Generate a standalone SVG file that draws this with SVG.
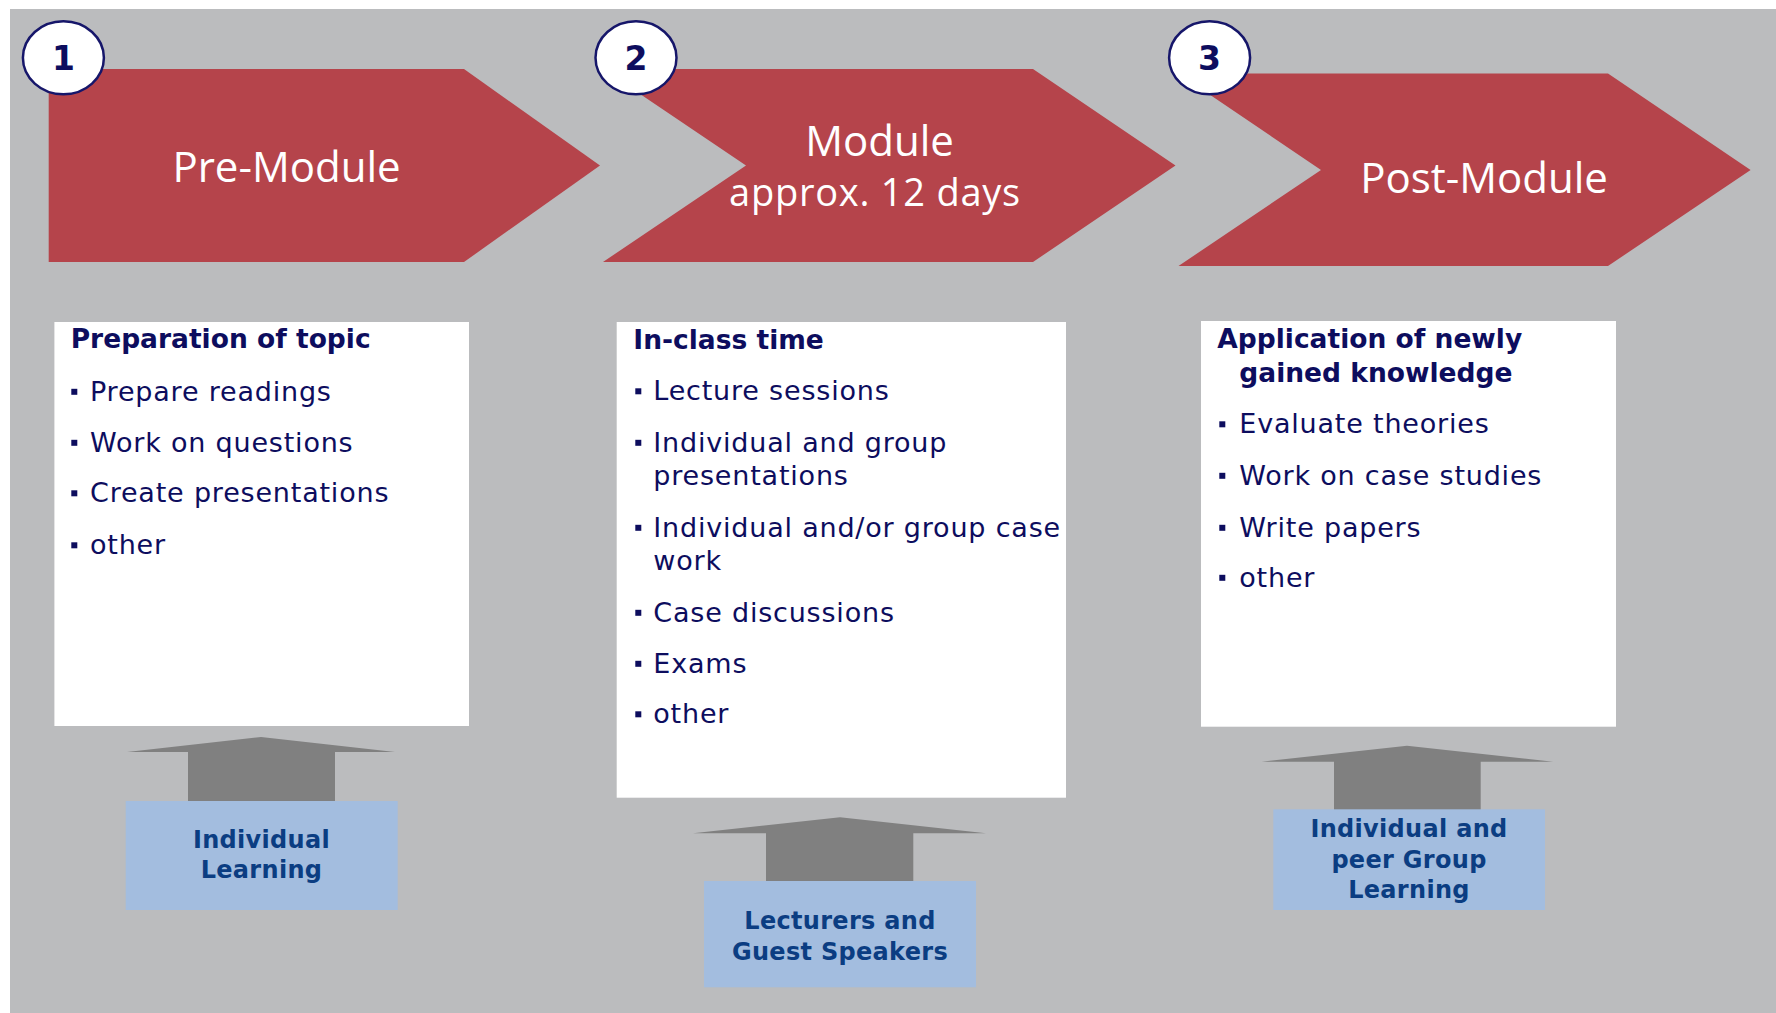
<svg xmlns="http://www.w3.org/2000/svg" width="1776" height="1013" viewBox="0 0 1776 1013">
<style>
.chev{fill:#B5444B}
.chevtxt{font-family:"Open Sans","Noto Sans",sans-serif;fill:#FFFFFF;text-anchor:middle}
.badge{fill:#FFFFFF;stroke:#16166A;stroke-width:2.5}
.num{font-family:"DejaVu Sans",sans-serif;font-weight:bold;font-size:33px;fill:#0D0D5E;text-anchor:middle}
.box{fill:#FFFFFF}
.title{font-family:"DejaVu Sans",sans-serif;font-weight:bold;font-size:26.5px;fill:#0D0D5E}
.item{font-family:"DejaVu Sans",sans-serif;font-size:27px;letter-spacing:0.8px;fill:#0D0D5E}
.bul{fill:#0D0D5E}
.up{fill:#808080}
.src{fill:#A3BDDF}
.srctxt{font-family:"DejaVu Sans",sans-serif;font-weight:bold;font-size:24px;letter-spacing:0.3px;fill:#0B3D82;text-anchor:middle}
</style>
<rect x="10" y="9" width="1766" height="1004" fill="#BBBCBE"/>

<g id="pre-module">
<polygon class="chev" points="48.7,69 464,69 600,165.5 464,262 48.7,262"/>
<text class="chevtxt" x="286.5" y="181.5" font-size="42">Pre-Module</text>
</g>
<g id="module">
<polygon class="chev" points="603,69 1033,69 1175.5,165.5 1033,262 603,262 746,165.5"/>
<text class="chevtxt" x="879.5" y="156" font-size="42">Module</text>
<text class="chevtxt" x="875" y="206" font-size="38" letter-spacing="0.75">approx. 12 days</text>
</g>
<g id="post-module">
<polygon class="chev" points="1178.5,73.5 1608,73.5 1750.6,170 1608,266 1178.5,266 1321,170"/>
<text class="chevtxt" x="1484" y="192.5" font-size="42">Post-Module</text>
</g>

<g id="badge-1">
<ellipse class="badge" cx="63.4" cy="57.8" rx="40.5" ry="36.5"/>
<text class="num" x="63.4" y="70">1</text>
</g>
<g id="badge-2">
<ellipse class="badge" cx="636" cy="57.8" rx="40.5" ry="36.5"/>
<text class="num" x="636" y="70">2</text>
</g>
<g id="badge-3">
<ellipse class="badge" cx="1209.6" cy="57.8" rx="40.5" ry="36.5"/>
<text class="num" x="1209.6" y="70">3</text>
</g>

<g id="box-pre">
<rect class="box" x="54.4" y="322" width="414.6" height="404"/>
<text class="title" x="70.7" y="348.3">Preparation of topic</text>
<rect class="bul" x="71.3" y="388.8" width="6" height="6"/>
<text class="item" x="90" y="400.7">Prepare readings</text>
<rect class="bul" x="71.3" y="439.8" width="6" height="6"/>
<text class="item" x="90" y="451.7">Work on questions</text>
<rect class="bul" x="71.3" y="490.3" width="6" height="6"/>
<text class="item" x="90" y="502.3">Create presentations</text>
<rect class="bul" x="71.3" y="542.3" width="6" height="6"/>
<text class="item" x="90" y="554.3">other</text>
</g>

<g id="box-module">
<rect class="box" x="616.7" y="322" width="449.3" height="475.7"/>
<text class="title" x="633.3" y="349.3">In-class time</text>
<rect class="bul" x="635.3" y="388.3" width="6" height="6"/>
<text class="item" x="653.3" y="400">Lecture sessions</text>
<rect class="bul" x="635.3" y="439.8" width="6" height="6"/>
<text class="item" x="653.3" y="451.7">Individual and group</text>
<text class="item" x="653.3" y="485">presentations</text>
<rect class="bul" x="635.3" y="524.8" width="6" height="6"/>
<text class="item" x="653.3" y="536.7">Individual and/or group case</text>
<text class="item" x="653.3" y="570">work</text>
<rect class="bul" x="635.3" y="609.8" width="6" height="6"/>
<text class="item" x="653.3" y="621.7">Case discussions</text>
<rect class="bul" x="635.3" y="660.8" width="6" height="6"/>
<text class="item" x="653.3" y="672.7">Exams</text>
<rect class="bul" x="635.3" y="711.3" width="6" height="6"/>
<text class="item" x="653.3" y="723.3">other</text>
</g>

<g id="box-post">
<rect class="box" x="1201" y="321" width="415" height="405.7"/>
<text class="title" x="1217.3" y="348.3">Application of newly</text>
<text class="title" x="1239.3" y="381.7">gained knowledge</text>
<rect class="bul" x="1219.3" y="421.3" width="6" height="6"/>
<text class="item" x="1239.3" y="433.3">Evaluate theories</text>
<rect class="bul" x="1219.3" y="472.8" width="6" height="6"/>
<text class="item" x="1239.3" y="485">Work on case studies</text>
<rect class="bul" x="1219.3" y="524.8" width="6" height="6"/>
<text class="item" x="1239.3" y="536.7">Write papers</text>
<rect class="bul" x="1219.3" y="574.8" width="6" height="6"/>
<text class="item" x="1239.3" y="586.7">other</text>
</g>

<g id="connectors">
<polygon class="up" points="127,752 261,737 395,752 335,752 335,802 188,802 188,752"/>
<polygon class="up" points="693,833.3 840,817.3 986,833.3 913.3,833.3 913.3,882 766,882 766,833.3"/>
<polygon class="up" points="1261.7,761.7 1407,745.7 1553.3,761.7 1480.7,761.7 1480.7,810 1334,810 1334,761.7"/>
</g>

<g id="src-individual">
<rect class="src" x="125.7" y="801" width="272" height="109"/>
<text class="srctxt" x="261.5" y="848.3" font-size="25" letter-spacing="0.6">Individual</text>
<text class="srctxt" x="261.5" y="878.3" font-size="25" letter-spacing="0.6">Learning</text>
</g>
<g id="src-lecturers">
<rect class="src" x="704" y="881" width="272" height="106.3"/>
<text class="srctxt" x="840" y="929">Lecturers and</text>
<text class="srctxt" x="840" y="960">Guest Speakers</text>
</g>
<g id="src-peer">
<rect class="src" x="1273.3" y="809.3" width="271.7" height="100.7"/>
<text class="srctxt" x="1409" y="837.3">Individual and</text>
<text class="srctxt" x="1409" y="868.3">peer Group</text>
<text class="srctxt" x="1409" y="898.3">Learning</text>
</g>
</svg>
